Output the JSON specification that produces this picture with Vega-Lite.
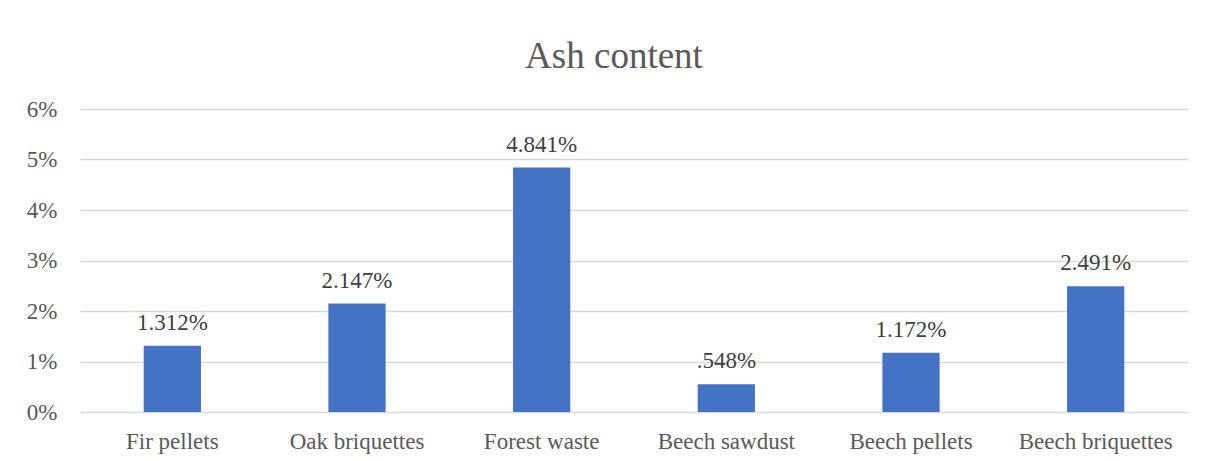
{
  "$schema": "https://vega.github.io/schema/vega-lite/v6.json",
  "width": 1108,
  "height": 303,
  "autosize": {"type": "none"},
  "padding": {"left": 80, "top": 109, "right": 17, "bottom": 49},
  "background": "white",
  "config": {"view": {"stroke": null}, "font": "Liberation Serif"},
  "title": {
    "text": "Ash content",
    "font": "Liberation Serif",
    "fontSize": 37,
    "fontWeight": "normal",
    "color": "#595959",
    "anchor": "middle",
    "dx": -20,
    "dy": 48,
    "baseline": "alphabetic",
    "offset": 41
  },
  "data": {
    "values": [
      {"material": "Fir pellets", "ash": 1.312, "label": "1.312%"},
      {"material": "Oak briquettes", "ash": 2.147, "label": "2.147%"},
      {"material": "Forest waste", "ash": 4.841, "label": "4.841%"},
      {"material": "Beech sawdust", "ash": 0.548, "label": ".548%"},
      {"material": "Beech pellets", "ash": 1.172, "label": "1.172%"},
      {"material": "Beech briquettes", "ash": 2.491, "label": "2.491%"}
    ]
  },
  "encoding": {
    "x": {
      "field": "material",
      "type": "nominal",
      "sort": null,
      "scale": {"paddingInner": 0.69, "paddingOuter": 0.345},
      "axis": {
        "title": null,
        "labelAngle": 0,
        "labelFont": "Liberation Serif",
        "labelFontSize": 23,
        "labelColor": "#595959",
        "labelPadding": 18,
        "ticks": false,
        "tickSize": 0,
        "domain": false,
        "grid": false
      }
    },
    "y": {
      "field": "ash",
      "type": "quantitative",
      "scale": {"domain": [0, 6], "nice": false},
      "axis": {
        "title": null,
        "values": [0, 1, 2, 3, 4, 5, 6],
        "labelExpr": "datum.value + '%'",
        "labelFont": "Liberation Serif",
        "labelFontSize": 23,
        "labelColor": "#595959",
        "labelPadding": 23,
        "ticks": false,
        "tickSize": 0,
        "domain": false,
        "grid": true,
        "gridColor": "#d9d9d9",
        "gridWidth": 1.5
      }
    }
  },
  "layer": [
    {"mark": {"type": "bar", "color": "#4472C4"}},
    {
      "mark": {
        "type": "text",
        "baseline": "alphabetic",
        "dy": -16,
        "font": "Liberation Serif",
        "fontSize": 23,
        "color": "#404040"
      },
      "encoding": {"text": {"field": "label"}}
    }
  ]
}
